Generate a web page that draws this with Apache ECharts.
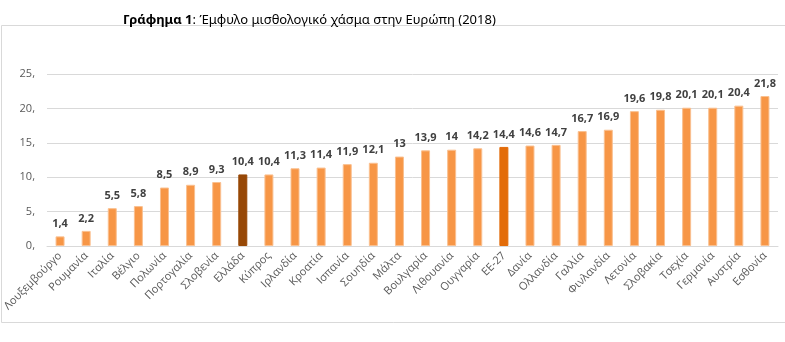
<!DOCTYPE html>
<html><head><meta charset="utf-8">
<script src="https://cdn.jsdelivr.net/npm/echarts@6/dist/echarts.min.js"></script>
<style>html,body{margin:0;padding:0;background:#fff}#c{width:785px;height:342px}</style>
</head><body><div id="c"></div>
<script>
const categories = ["Λουξεμβούργο","Ρουμανία","Ιταλία","Βέλγιο","Πολωνία","Πορτογαλία","Σλοβενία","Ελλάδα","Κύπρος","Ιρλανδία","Κροατία","Ισπανία","Σουηδία","Μάλτα","Βουλγαρία","Λιθουανία","Ουγγαρία","ΕΕ-27","Δανία","Ολλανδία","Γαλλία","Φινλανδία","Λετονία","Σλοβακία","Τσεχία","Γερμανία","Αυστρία","Εσθονία"];
const values = [1.4,2.2,5.5,5.8,8.5,8.9,9.3,10.4,10.4,11.3,11.4,11.9,12.1,13,13.9,14,14.2,14.4,14.6,14.7,16.7,16.9,19.6,19.8,20.1,20.1,20.4,21.8];
const yTicks = [0,5,10,15,20,25];
const highlight = {"Ελλάδα":"#974806","ΕΕ-27":"#E36C09"};

const chart = echarts.init(document.getElementById('c'), null, {renderer:'canvas'});
const font = "'Open Sans', 'Noto Sans', sans-serif";
const tfont = "'Liberation Sans Narrow', 'Noto Sans', sans-serif";
chart.setOption({
  animation:false,
  textStyle:{fontFamily:font},
  title:{
    text:'{b|Γράφημα 1}{n|: Έμφυλο μισθολογικό χάσμα στην Ευρώπη (2018)}',
    left:118, top:9,
    textStyle:{fontWeight:'normal',rich:{
      b:{fontWeight:'bold',fontSize:13,color:'#000',fontFamily:tfont},
      n:{fontWeight:'normal',fontSize:13,color:'#000',fontFamily:tfont}
    }}
  },
  graphic:[{type:'rect',shape:{x:1.5,y:25.5,width:790,height:297},style:{fill:'none',stroke:'#d9d9d9',lineWidth:1},silent:true,z:-1}],
  grid:{left:47,right:7,top:74,bottom:96,containLabel:false},
  xAxis:{
    type:'category', data:categories,
    axisLine:{lineStyle:{color:'#d9d9d9'}},
    axisTick:{show:false},
    axisLabel:{rotate:45,interval:0,color:'#595959',fontSize:11,margin:8,fontFamily:font}
  },
  yAxis:{
    type:'value', min:yTicks[0], max:yTicks[yTicks.length-1], interval:5,
    axisLine:{show:false}, axisTick:{show:false},
    splitLine:{lineStyle:{color:'#d9d9d9'}},
    axisLabel:{color:'#595959',fontSize:11,margin:12,formatter:v=>v+',',fontFamily:font}
  },
  series:[{
    type:'bar', barWidth:9,
    data:values.map((v,i)=>({value:v,itemStyle:{color:highlight[categories[i]]||'#F79646',borderColor:highlight[categories[i]]||'#FAC090',borderWidth:1}})),
    label:{show:true,position:'top',distance:7,color:'#404040',fontWeight:'bold',fontSize:11,fontFamily:font,
      formatter:p=>String(p.value).replace('.',',')}
  }]
});
</script></body></html>
